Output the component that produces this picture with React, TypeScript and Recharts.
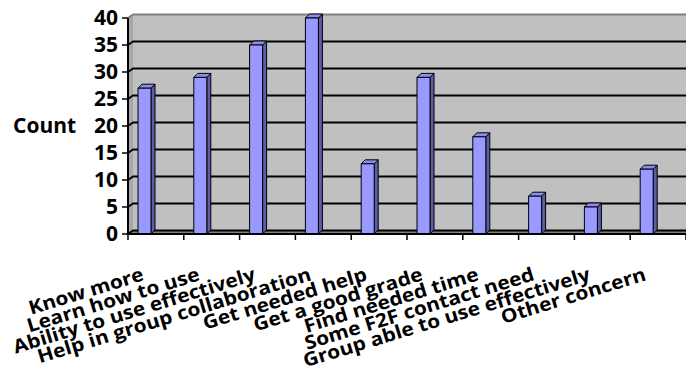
import { BarChart, Bar, XAxis, YAxis, CartesianGrid } from "recharts";

// survey answers and how many respondents picked each one
const categories = [
  "Know more",
  "Learn how to use",
  "Ability to use effectively",
  "Help in group collaboration",
  "Get needed help",
  "Get a good grade",
  "Find needed time",
  "Some F2F contact need",
  "Group able to use effectively",
  "Other concern",
];
const counts = [27, 29, 35, 40, 13, 29, 18, 7, 5, 12];
const countTicks = [0, 5, 10, 15, 20, 25, 30, 35, 40];

const data = categories.map((name, i) => ({ name, count: counts[i] }));

const WIDTH = 686;
const HEIGHT = 381;
const AXIS_W = 128;
const BAND = (WIDTH - AXIS_W) / categories.length;
const FONT = "'Open Sans', Lato, sans-serif";

// fake 3d depth of the back wall and the bars
const DX = 5;
const DY = 3.5;
const BAR_DX = 4;
const BAR_DY = 4;
const BAR_SHIFT = -11;

function BoxBar(props: any) {
  const { x, y, width, height } = props;
  if (!height) return null;
  const fx = x + BAR_SHIFT;
  const r = fx + width;
  const b = y + height;
  return (
    <g stroke="#000" strokeWidth={1} strokeLinejoin="round">
      <polygon
        points={`${r},${y} ${r + BAR_DX},${y - BAR_DY} ${r + BAR_DX},${b - BAR_DY} ${r},${b}`}
        fill="#5c5ca8"
      />
      <polygon
        points={`${fx},${y} ${fx + BAR_DX},${y - BAR_DY} ${r + BAR_DX},${y - BAR_DY} ${r},${y}`}
        fill="#8c8cf0"
      />
      <rect x={fx} y={y} width={width} height={height} fill="#9999ff" />
    </g>
  );
}

function WallLine(props: any) {
  const { x1, x2, y1, index, x, y, width, height } = props;
  const top = Math.abs(y1 - y) < 0.5;
  return (
    <g>
      {index === 0 && (
        <g>
          <rect x={x + DX} y={y - DY} width={width - DX} height={height} fill="#c0c0c0" />
          <polygon
            points={`${x},${y} ${x + DX},${y - DY} ${x + DX},${y + height - DY} ${x},${y + height}`}
            fill="#a8a8a8"
          />
          <polygon
            points={`${x},${y + height} ${x + DX},${y + height - DY} ${x + width},${y + height - DY} ${x + width},${y + height}`}
            fill="#808080"
          />
        </g>
      )}
      <polyline
        points={`${x1},${y1} ${x1 + DX},${y1 - DY} ${x2},${y1 - DY}`}
        stroke={top ? "#808080" : "#000"}
        strokeWidth={top ? 2 : 1.8}
        fill="none"
      />
    </g>
  );
}

function CategoryTick(props: any) {
  const { x, y, payload } = props;
  const last = payload.value === categories[categories.length - 1];
  return (
    <g>
      <line x1={x - BAND / 2} y1={y} x2={x - BAND / 2} y2={y + 6} stroke="#000" strokeWidth={1.5} />
      {last && <line x1={x + BAND / 2} y1={y} x2={x + BAND / 2} y2={y + 6} stroke="#000" strokeWidth={1.5} />}
      {/* labels are a little wider than the font draws them */}
      <text
        transform={`translate(${x - 11}, ${y + 46}) rotate(-17) scale(1.1, 1)`}
        textAnchor="end"
        fontFamily={FONT}
        fontWeight={700}
        fontSize={19}
        fill="#000"
      >
        {payload.value}
      </text>
    </g>
  );
}

export default function App() {
  return (
    <div style={{ width: WIDTH, height: HEIGHT, background: "#fff" }}>
      <style>{"body{margin:0}"}</style>
      <BarChart
        width={WIDTH}
        height={HEIGHT}
        data={data}
        margin={{ top: 18, right: 0, bottom: 0, left: 0 }}
        barCategoryGap={0}
      >
        <CartesianGrid vertical={false} horizontal={WallLine} stroke="#000" />
        <XAxis
          dataKey="name"
          interval={0}
          height={147}
          tickSize={0}
          tickMargin={0}
          tickLine={false}
          axisLine={{ stroke: "#000", strokeWidth: 2 }}
          tick={CategoryTick}
        />
        <YAxis
          width={AXIS_W}
          domain={[0, 40]}
          ticks={countTicks}
          interval={0}
          tickSize={6}
          tickMargin={4}
          axisLine={{ stroke: "#000", strokeWidth: 2 }}
          tickLine={{ stroke: "#000", strokeWidth: 1.5 }}
          tick={{ fill: "#000", fontFamily: FONT, fontWeight: 700, fontSize: 21 }}
          label={{
            value: "Count",
            position: "insideLeft",
            offset: 13,
            fill: "#000",
            fontFamily: FONT,
            fontWeight: 700,
            fontSize: 21,
          }}
        />
        <Bar dataKey="count" barSize={13} shape={BoxBar} isAnimationActive={false} />
      </BarChart>
    </div>
  );
}
